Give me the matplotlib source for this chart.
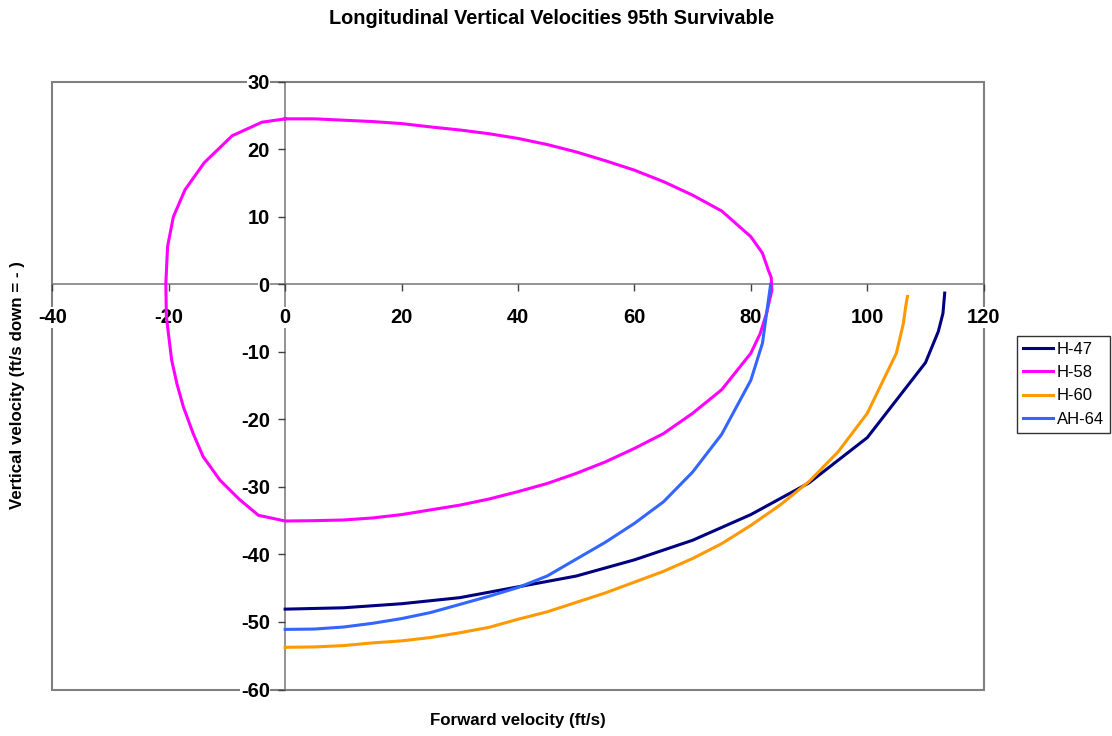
import matplotlib
matplotlib.use('Agg')
import matplotlib.pyplot as plt
from matplotlib.patches import Rectangle

plt.rcParams['font.family'] = ['Liberation Sans', 'DejaVu Sans']

# forward / vertical velocity pairs (ft/s)
h47_x = [0, 10, 20, 30, 40, 50, 60, 70, 80, 90, 100, 110, 112.2, 113, 113.3]
h47_y = [-48.1, -47.9, -47.3, -46.4, -44.8, -43.2, -40.8, -37.9, -34.1, -29.4, -22.7, -11.6, -7.0, -4.3, -1.3]

h58_x = [0, 5, 10, 15, 20, 25, 30, 35, 40, 45, 50, 55, 60, 65, 70, 75, 80, 82, 83, 83.5,
         83.6, 82.7, 81.6, 80, 75, 70, 65, 60, 55, 50, 45, 40, 35, 30, 25, 20, 15, 10, 5, 0,
         -4.6, -7.8, -11.2, -14.1, -15.8, -17.5, -18.6, -19.5, -20.4, -20.5, -20.2, -19.2, -17.2,
         -13.9, -9.1, -4, 0]
h58_y = [24.5, 24.5, 24.3, 24.1, 23.8, 23.3, 22.85, 22.3, 21.6, 20.7, 19.6, 18.3, 16.9, 15.2, 13.2, 10.85, 7.05, 4.6, 2.1, 1.0,
         -0.9, -4.3, -7.3, -10.2, -15.6, -19.1, -22.1, -24.3, -26.3, -28.0, -29.5, -30.7, -31.8, -32.7, -33.4, -34.1, -34.6, -34.9, -35.0, -35.05,
         -34.2, -31.9, -29.0, -25.5, -22.1, -18.1, -14.7, -11.2, -4.8, 0, 5.6, 10, 14,
         18, 22, 24, 24.5]

h60_x = [0, 5, 10, 15, 20, 25, 30, 35, 40, 45, 50, 55, 60, 65, 70, 75, 80, 85, 90, 95, 100, 105, 106.2, 106.6, 106.9]
h60_y = [-53.75, -53.7, -53.5, -53.1, -52.8, -52.3, -51.6, -50.8, -49.6, -48.5, -47.1, -45.7, -44.1, -42.5, -40.6, -38.4, -35.7, -32.7, -29.2, -24.8, -19.1, -10.2, -5.8, -3.3, -1.8]

ah64_x = [0, 5, 10, 15, 20, 25, 30, 35, 40, 45, 50, 55, 60, 65, 70, 75, 80, 82, 82.7, 83.4]
ah64_y = [-51.1, -51.05, -50.75, -50.2, -49.5, -48.6, -47.4, -46.2, -44.9, -43.2, -40.7, -38.2, -35.4, -32.2, -27.8, -22.2, -14.2, -8.7, -4.3, 0]

series = [('H-47', h47_x, h47_y, '#000080'),
          ('H-58', h58_x, h58_y, '#FF00FF'),
          ('H-60', h60_x, h60_y, '#FF9900'),
          ('AH-64', ah64_x, ah64_y, '#3366FF')]

xticks = [-40, -20, 0, 20, 40, 60, 80, 100, 120]
yticks = [-60, -50, -40, -30, -20, -10, 0, 10, 20, 30]

fig = plt.figure(figsize=(11.12, 7.36), dpi=100)
ax = fig.add_axes([52.3 / 1112, 1 - 689.5 / 736, (983.7 - 52.3) / 1112, (689.5 - 81.7) / 736])

for name, xs, ys, col in series:
    ax.plot(xs, ys, color=col, lw=2.2, label=name, zorder=3, solid_joinstyle='miter')

ax.set_xlim(-40, 120)
ax.set_ylim(-60, 30)

# axes cross at the origin, plot area keeps its own gray frame
ax.spines['left'].set_position(('data', 0))
ax.spines['bottom'].set_position(('data', 0))
ax.spines['right'].set_visible(False)
ax.spines['top'].set_visible(False)
for s in ('left', 'bottom'):
    ax.spines[s].set_color('#808080')
    ax.spines[s].set_linewidth(1.2)
    ax.spines[s].set_zorder(1)
ax.add_patch(Rectangle((0, 0), 1, 1, transform=ax.transAxes, fill=False,
                       edgecolor='#808080', lw=1.5, zorder=0.5, clip_on=False))

ax.set_xticks(xticks)
ax.set_yticks(yticks)
xl = ax.set_xticklabels([str(v) for v in xticks], fontsize=14.5, fontweight='bold')
yl = ax.set_yticklabels([str(v) for v in yticks], fontsize=14.5, fontweight='bold')
for t in xl + yl:
    t.set_bbox(dict(facecolor='white', edgecolor='none', pad=0.5))
ax.tick_params(axis='x', direction='out', length=5, width=1, color='#404040', pad=12)
ax.tick_params(axis='y', direction='out', length=5, width=1, color='#404040', pad=6)

fig.text(552 / 1112, 1 - 18 / 736, 'Longitudinal Vertical Velocities 95th Survivable',
         ha='center', va='center', fontsize=14.3, fontweight='bold')
fig.text(518 / 1112, 1 - 720 / 736, 'Forward velocity (ft/s)',
         ha='center', va='center', fontsize=12.2, fontweight='bold')
fig.text(18 / 1112, 1 - 385 / 736, 'Vertical velocity (ft/s down = - )',
         ha='center', va='center', rotation=90, fontsize=12.2, fontweight='bold')

leg = fig.legend(loc='upper left', bbox_to_anchor=(1016.7 / 1112, 1 - 336 / 736),
                 borderaxespad=0, fontsize=12, frameon=True, fancybox=False,
                 handlelength=1.85, handletextpad=0.2, labelspacing=0.5, borderpad=0.35)
leg.get_frame().set_edgecolor('black')
leg.get_frame().set_linewidth(1)

fig.savefig('out.png', dpi=100)
